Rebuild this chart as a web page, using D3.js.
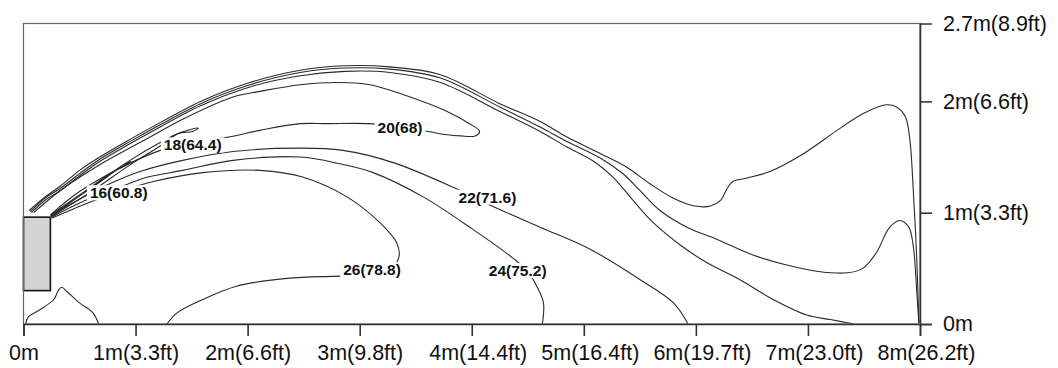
<!DOCTYPE html>
<html><head><meta charset="utf-8">
<script src="https://cdn.jsdelivr.net/npm/d3@7"></script>
<style>
body{margin:0;background:#fff}
svg{display:block}
text{font-family:"Liberation Sans",Arial,Helvetica,sans-serif}
</style>
</head><body>
<svg id="chart" width="1058" height="368"></svg>
<script>
// ---------- data (metres) ----------
const xTicks = [0,1,2,3,4,5,6,7,8];
const xTickLabels = ["0m","1m(3.3ft)","2m(6.6ft)","3m(9.8ft)","4m(14.4ft)","5m(16.4ft)","6m(19.7ft)","7m(23.0ft)","8m(26.2ft)"];
const yTicks = [0,1,2,2.7];
const yTickLabels = ["0m","1m(3.3ft)","2m(6.6ft)","2.7m(8.9ft)"];
const roomWidth = 8, roomHeight = 2.7;

// supply unit (x0, y0, x1, y1)
const supplyBox = [0, 0.30, 0.24, 0.96];

// isotherm lines, [x m, height m]
const outerA = [[0.05,1.02],[0.19,1.14],[0.33,1.24],[0.50,1.38],[0.68,1.50],[0.97,1.67],[1.13,1.76],[1.58,2.00],[2.02,2.17],[2.47,2.28],[2.87,2.32],[3.27,2.31],[3.72,2.24],[4.25,1.98],[4.61,1.82],[4.85,1.68],[5.15,1.53],[5.38,1.41],[5.59,1.26],[5.80,1.13],[5.99,1.06],[6.13,1.06],[6.22,1.11],[6.28,1.22],[6.33,1.28],[6.45,1.31],[6.66,1.37],[6.96,1.53],[7.26,1.74],[7.49,1.89],[7.70,1.97],[7.79,1.95],[7.87,1.86],[7.91,1.65],[7.94,1.20],[7.97,0.61],[7.99,0.01]];
const outerB = [[0.06,1.01],[0.19,1.13],[0.33,1.22],[0.50,1.35],[0.68,1.48],[0.97,1.65],[1.13,1.74],[1.58,1.98],[2.02,2.15],[2.47,2.26],[2.87,2.30],[3.27,2.29],[3.72,2.21],[4.25,1.95],[4.61,1.77],[4.85,1.64],[5.15,1.49],[5.35,1.35],[5.50,1.20],[5.68,1.02],[5.92,0.87],[6.19,0.76],[6.51,0.62],[6.81,0.53],[7.11,0.47],[7.35,0.46],[7.49,0.50],[7.61,0.64],[7.73,0.87],[7.82,0.93],[7.90,0.87],[7.94,0.70],[7.97,0.31],[7.99,0.01]];
const outerC = [[0.07,1.00],[0.19,1.11],[0.33,1.20],[0.50,1.33],[0.68,1.46],[0.97,1.63],[1.13,1.72],[1.58,1.96],[2.02,2.13],[2.47,2.23],[2.87,2.27],[3.27,2.26],[3.72,2.17],[4.25,1.91],[4.61,1.73],[4.85,1.59],[5.09,1.46],[5.26,1.32],[5.44,1.11],[5.62,0.91],[5.86,0.71],[6.10,0.55],[6.39,0.40],[6.69,0.22],[6.99,0.08],[7.20,0.04],[7.41,0.00]];
const tongue20 = [[0.09,1.00],[0.33,1.20],[0.68,1.43],[1.13,1.68],[1.42,1.84],[1.87,2.04],[2.11,2.09],[2.47,2.15],[2.80,2.17],[3.09,2.15],[3.45,2.04],[3.78,1.91],[3.98,1.80],[4.07,1.73],[4.03,1.69],[3.90,1.69],[3.78,1.70],[3.61,1.73],[3.36,1.77],[3.09,1.80],[2.71,1.80],[2.47,1.80],[2.11,1.74],[1.83,1.68],[1.53,1.64],[1.22,1.56],[0.86,1.40],[0.50,1.19],[0.25,0.99]];
const tongue18 = [[0.24,0.98],[0.59,1.22],[0.95,1.47],[1.22,1.63],[1.40,1.72],[1.56,1.76],[1.51,1.73],[1.38,1.71],[1.22,1.60],[0.95,1.43],[0.59,1.18],[0.25,0.97]];
const tongue16 = [[0.24,0.97],[0.50,1.15],[0.73,1.31],[0.88,1.42],[0.96,1.46],[0.92,1.43],[0.77,1.35],[0.55,1.19],[0.25,0.96]];
const line22 = [[0.25,0.97],[0.50,1.12],[0.77,1.26],[1.04,1.37],[1.42,1.47],[1.87,1.55],[2.47,1.58],[2.85,1.56],[3.30,1.45],[3.83,1.23],[4.16,1.07],[4.61,0.87],[5.06,0.67],[5.50,0.40],[5.80,0.19],[5.93,0.00]];
const line24 = [[0.25,0.96],[0.55,1.11],[0.82,1.21],[1.07,1.31],[1.42,1.38],[1.87,1.47],[2.47,1.50],[2.82,1.44],[3.12,1.36],[3.57,1.14],[4.01,0.85],[4.37,0.59],[4.50,0.47],[4.59,0.32],[4.64,0.19],[4.63,0.00]];
const line26 = [[0.25,0.95],[0.58,1.09],[0.86,1.19],[1.16,1.28],[1.60,1.36],[2.11,1.38],[2.49,1.32],[2.89,1.14],[3.18,0.91],[3.33,0.73],[3.35,0.60],[3.27,0.49],[3.00,0.44],[2.82,0.43],[2.35,0.41],[1.90,0.34],[1.60,0.22],[1.37,0.10],[1.28,0.00]];
const floorBlob = [[0.02,0.00],[0.04,0.06],[0.15,0.13],[0.27,0.22],[0.31,0.30],[0.34,0.33],[0.39,0.29],[0.50,0.19],[0.62,0.10],[0.67,0.00]];

const labelTexts = ["16(60.8)","18(64.4)","20(68)","22(71.6)","26(78.8)","24(75.2)"];
const labelX = [0.85,1.51,3.36,4.14,3.11,4.41];
const labelY = [1.18,1.61,1.77,1.14,0.49,0.48];

const contours = [outerA, outerB, outerC, tongue20, tongue18, tongue16, line22, line24, line26, floorBlob];

// ---------- drawing ----------
const svg = d3.select("#chart");
const mLeft = 23.5, mRight = 920, mTop = 23.5, mBottom = 324;
const x = d3.scaleLinear().domain([0, roomWidth]).range([mLeft, mRight]);
const y = d3.scaleLinear().domain([0, roomHeight]).range([mBottom, mTop]);

const lineGen = d3.line().x(d => x(d[0])).y(d => y(d[1])).curve(d3.curveCatmullRom.alpha(0.5));

svg.append("g").selectAll("path.iso").data(contours).join("path")
  .attr("class","iso")
  .attr("d", lineGen)
  .attr("fill","none")
  .attr("stroke","#2a2a2a")
  .attr("stroke-width",1.1)
  .attr("stroke-linejoin","round");

// supply box
svg.append("rect")
  .attr("x", x(supplyBox[0]))
  .attr("y", y(supplyBox[3]))
  .attr("width", x(supplyBox[2]) - x(supplyBox[0]))
  .attr("height", y(supplyBox[1]) - y(supplyBox[3]))
  .attr("fill","#d4d4d4")
  .attr("stroke","#111")
  .attr("stroke-width",1.6);

// contour labels with white knock-out
const lg = svg.append("g");
labelTexts.forEach((t,i) => {
  const grp = lg.append("g");
  const txt = grp.append("text")
    .attr("x", x(labelX[i])).attr("y", y(labelY[i]))
    .attr("dy","0.36em")
    .attr("text-anchor","middle")
    .attr("font-size","15.5px")
    .attr("font-weight","bold")
    .attr("fill","#111")
    .text(t);
  const bb = txt.node().getBBox();
  grp.insert("rect","text")
    .attr("x", bb.x - 3).attr("y", bb.y + 1)
    .attr("width", bb.width + 6).attr("height", bb.height - 2)
    .attr("fill","#fff");
});

// frame
svg.append("rect")
  .attr("x", mLeft).attr("y", mTop)
  .attr("width", mRight-mLeft).attr("height", mBottom-mTop)
  .attr("fill","none").attr("stroke","#666").attr("stroke-width",1.2);

// bottom axis
const ax = svg.append("g").attr("transform",`translate(0,${mBottom})`)
  .call(d3.axisBottom(x).tickValues(xTicks).tickSize(12).tickPadding(9)
        .tickFormat((d,i) => xTickLabels[i]));
ax.select(".domain").attr("stroke","#333").attr("stroke-width",1.6);
ax.selectAll(".tick line").attr("stroke","#333").attr("stroke-width",1.6);
ax.selectAll(".tick text")
  .attr("font-size","21.5px").attr("fill","#111")
  .attr("font-family","'Liberation Sans',Arial,sans-serif")
  .each(function(d,i){
    if (i > 0) d3.select(this).attr("text-anchor","start").attr("x",-43);
  });

// right axis
const ay = svg.append("g").attr("transform",`translate(${mRight},0)`)
  .call(d3.axisRight(y).tickValues(yTicks).tickSize(12).tickPadding(11)
        .tickFormat((d,i) => yTickLabels[i]));
ay.select(".domain").attr("stroke","#333").attr("stroke-width",1.6);
ay.selectAll(".tick line").attr("stroke","#333").attr("stroke-width",1.6)
  .attr("opacity", d => d === roomHeight ? 0 : 1);
ay.selectAll(".tick text")
  .attr("font-size","21.5px").attr("fill","#111")
  .attr("font-family","'Liberation Sans',Arial,sans-serif");
</script>
</body></html>
